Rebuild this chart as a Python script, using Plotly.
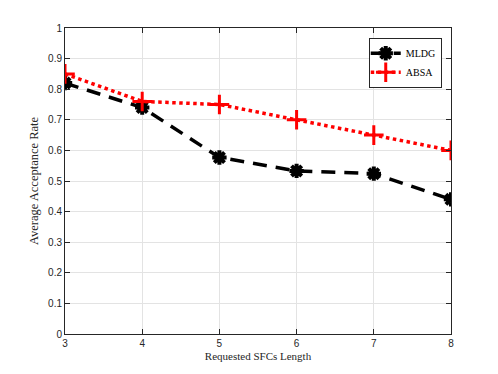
import plotly.graph_objects as go

lengths = [3, 4, 5, 6, 7, 8]
mldg = [0.82, 0.74, 0.577, 0.533, 0.524, 0.44]
absa = [0.85, 0.76, 0.75, 0.70, 0.65, 0.60]

fig = go.Figure()
fig.add_trace(go.Scatter(
    x=lengths, y=mldg, name="MLDG", mode="lines+markers",
    line=dict(color="black", width=3.5, dash="14px,9px"),
    marker=dict(symbol="asterisk-open", size=12, color="black",
                line=dict(color="black", width=4)),
))
fig.add_trace(go.Scatter(
    x=lengths, y=absa, name="ABSA", mode="lines+markers",
    line=dict(color="red", width=3.5, dash="dot"),
    marker=dict(symbol="cross-thin-open", size=14, color="red",
                line=dict(color="red", width=3)),
))

axis_common = dict(
    showline=True, linecolor="#262626", linewidth=1, mirror="allticks",
    ticks="inside", ticklen=5, tickcolor="#262626",
    showgrid=True, gridcolor="#e3e3e3", gridwidth=1, zeroline=False,
    tickfont=dict(family="Liberation Sans, Arial", size=10, color="#262626"),
)

fig.update_xaxes(range=[3, 8], dtick=1, **axis_common,
                 title=dict(text="Requested SFCs Length", standoff=4,
                            font=dict(family="Liberation Serif, Times New Roman", size=11, color="#262626")))
fig.update_yaxes(range=[0, 1], dtick=0.1, tickformat="~g", **axis_common,
                 title=dict(text="Average Acceptance Rate", standoff=6,
                            font=dict(family="Liberation Serif, Times New Roman", size=12.5, color="#262626")))

# page body has an 8px margin, so shift the figure up/left to match
fig.update_layout(
    width=498, height=374,
    margin=dict(l=57, r=55, t=20, b=48),
    plot_bgcolor="white", paper_bgcolor="white",
    legend=dict(x=0.976, y=0.968, xanchor="right", yanchor="top",
                bgcolor="white", bordercolor="#262626", borderwidth=1,
                font=dict(family="Liberation Serif, Times New Roman", size=10, color="black"),
                tracegroupgap=0, itemwidth=30, indentation=-4),
    showlegend=True,
)

fig.write_html("out.html")
